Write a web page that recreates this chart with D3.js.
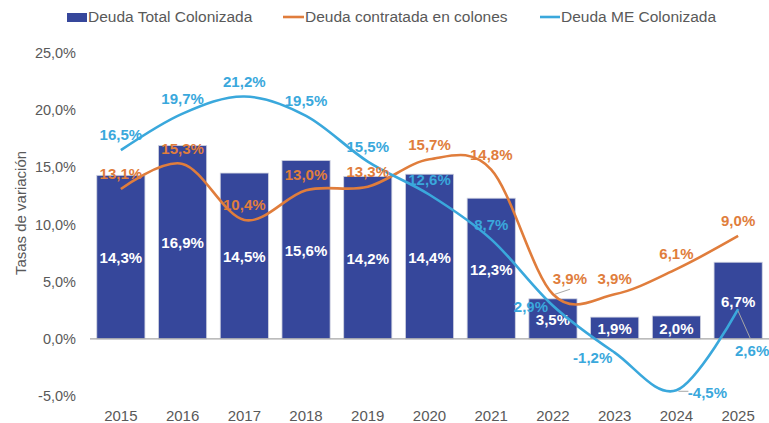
<!DOCTYPE html>
<html>
<head>
<meta charset="utf-8">
<script src="https://cdn.jsdelivr.net/npm/d3@7"></script>
<style>
    body { margin: 0; background: #fff; }
    svg { display: block; font-family: "Liberation Sans", Arial, sans-serif; }
    .tick-y { fill: #595959; font-size: 14.5px; }
    .tick-x { fill: #595959; font-size: 15px; }
    .lbl { font-size: 15px; font-weight: bold; }
    .legend text { fill: #595959; font-size: 15.5px; }
</style>
</head>
<body>
<div id="chart"></div>
<script>
var years = ["2015", "2016", "2017", "2018", "2019", "2020", "2021", "2022", "2023", "2024", "2025"];
var deudaTotal = [14.3, 16.9, 14.5, 15.6, 14.2, 14.4, 12.3, 3.5, 1.9, 2.0, 6.7];
var deudaColones = [13.1, 15.3, 10.4, 13.0, 13.3, 15.7, 14.8, 3.9, 3.9, 6.1, 9.0];
var deudaME = [16.5, 19.7, 21.2, 19.5, 15.5, 12.6, 8.7, 2.9, -1.2, -4.5, 2.6];
var yTicks = [-5, 0, 5, 10, 15, 20, 25];

var W = 769, H = 423;
var colBar = "#36479b", colOrange = "#e07d3c", colBlue = "#3aa8dc";

var svg = d3.select("#chart").append("svg").attr("width", W).attr("height", H);

var x = d3.scaleBand().domain(years).range([90, 769]).paddingInner(0.22).paddingOuter(0.11);
var y = d3.scaleLinear().domain([-5, 25]).range([396, 53]);
var fmt = function(v) { return d3.format(".1f")(v).replace(".", ",").replace("−", "-") + "%"; };
var cx = function(d, i) { return x(years[i]) + x.bandwidth() / 2; };

// y axis labels only
svg.append("g").selectAll("text").data(yTicks).enter().append("text")
    .attr("class", "tick-y").attr("x", 76).attr("y", function(d) { return y(d); })
    .attr("dy", "0.35em").attr("text-anchor", "end").text(fmt);

svg.append("text").attr("transform", "translate(21," + 213 + ") rotate(-90)")
    .attr("text-anchor", "middle").attr("dy", "0.35em")
    .style("fill", "#595959").style("font-size", "15px").text("Tasas de variación");

// bars
svg.append("g").selectAll("rect").data(deudaTotal).enter().append("rect")
    .attr("x", function(d, i) { return x(years[i]); })
    .attr("width", x.bandwidth())
    .attr("y", function(d) { return y(Math.max(0, d)); })
    .attr("height", function(d) { return Math.abs(y(d) - y(0)); })
    .attr("fill", colBar).attr("stroke", "#d0d3e0").attr("stroke-width", 0.8);

// zero line
svg.append("line").attr("x1", 90).attr("x2", 769).attr("y1", y(0)).attr("y2", y(0))
    .attr("stroke", "#a6a6a6").attr("stroke-width", 1.3);

// x labels
svg.append("g").selectAll("text").data(years).enter().append("text")
    .attr("class", "tick-x").attr("x", function(d) { return x(d) + x.bandwidth() / 2; })
    .attr("y", 416).attr("dy", "0.35em").attr("text-anchor", "middle").text(function(d) { return d; });

// bar labels, centred in bar (lines are drawn over them)
svg.append("g").selectAll("text").data(deudaTotal).enter().append("text")
    .attr("class", "lbl").attr("fill", "#fff").attr("text-anchor", "middle").attr("dy", "0.35em")
    .attr("x", cx).attr("y", function(d) { return (y(d) + y(0)) / 2 + 1; }).text(fmt);

var line = d3.line().x(cx).y(function(d) { return y(d); }).curve(d3.curveCatmullRom.alpha(0));

svg.append("path").datum(deudaColones).attr("d", line).attr("fill", "none")
    .attr("stroke", colOrange).attr("stroke-width", 2.6);
svg.append("path").datum(deudaME).attr("d", line).attr("fill", "none")
    .attr("stroke", colBlue).attr("stroke-width", 2.6);

// leader lines
var leaders = [
    [cx(0, 7) + 2, y(deudaColones[7]), cx(0, 7) + 17, y(deudaColones[7]) - 5],
    [cx(0, 9) + 2, y(deudaME[9]) + 1, cx(0, 9) + 12, y(deudaME[9]) + 1],
    [cx(0, 10), y(deudaME[10]) + 2, cx(0, 10) + 12, y(deudaME[10]) + 29]
];
svg.append("g").selectAll("line").data(leaders).enter().append("line")
    .attr("x1", function(d) { return d[0]; }).attr("y1", function(d) { return d[1]; })
    .attr("x2", function(d) { return d[2]; }).attr("y2", function(d) { return d[3]; })
    .attr("stroke", "#a6a6a6").attr("stroke-width", 1);

// line labels, default above the point, a few moved
var nudgeOrange = { 7: [17, -15] };
var nudgeBlue = { 7: [-22, 1], 8: [-22, 5], 9: [31, 2], 10: [14, 42] };

function lineLabels(data, color, nudge) {
    svg.append("g").selectAll("text").data(data).enter().append("text")
        .attr("class", "lbl").attr("fill", color).attr("text-anchor", "middle").attr("dy", "0.35em")
        .attr("x", function(d, i) { return cx(d, i) + (nudge[i] ? nudge[i][0] : 0); })
        .attr("y", function(d, i) { return y(d) + (nudge[i] ? nudge[i][1] : -15); })
        .text(fmt);
}
lineLabels(deudaColones, colOrange, nudgeOrange);
lineLabels(deudaME, colBlue, nudgeBlue);

// legend
var legend = svg.append("g").attr("class", "legend");
legend.append("rect").attr("x", 67).attr("y", 13).attr("width", 20).attr("height", 9).attr("fill", colBar);
legend.append("text").attr("x", 88).attr("y", 17).attr("dy", "0.35em").text("Deuda Total Colonizada");
legend.append("line").attr("x1", 283).attr("x2", 304).attr("y1", 17).attr("y2", 17)
    .attr("stroke", colOrange).attr("stroke-width", 2.6);
legend.append("text").attr("x", 305).attr("y", 17).attr("dy", "0.35em").text("Deuda contratada en colones");
legend.append("line").attr("x1", 540).attr("x2", 560).attr("y1", 17).attr("y2", 17)
    .attr("stroke", colBlue).attr("stroke-width", 2.6);
legend.append("text").attr("x", 561).attr("y", 17).attr("dy", "0.35em").text("Deuda ME Colonizada");
</script>
</body>
</html>
